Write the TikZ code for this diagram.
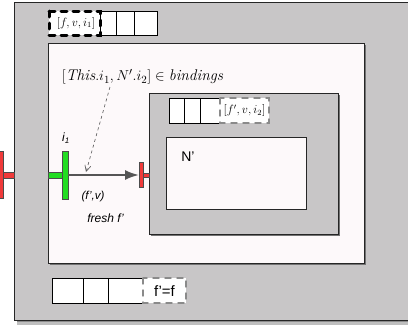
\documentclass[tikz,border=0pt]{standalone}
\usepackage{fontspec}
\setsansfont{Liberation Sans}
\usetikzlibrary{arrows.meta}
\definecolor{bggray}{HTML}{C8C6C7}
\definecolor{pinkw}{HTML}{FDF9FA}
\definecolor{portred}{HTML}{F03A3A}
\definecolor{portgreen}{HTML}{22DD22}
\definecolor{arrgray}{HTML}{555555}
\definecolor{dashgray}{HTML}{8A8A8A}
\tikzset{
  box/.style={draw=black!85, line width=0.9pt},
  cell/.style={draw=black, line width=0.6pt, fill=white},
  bigdash/.style={draw=black, line width=3pt, dash pattern=on 6pt off 6pt, line cap=round, fill=white},
  smalldash/.style={draw=dashgray, line width=1.4pt, dash pattern=on 6pt off 6pt, line cap=round, fill=white},
  redport/.style={fill=portred, draw=black!70, line width=0.5pt},
  greenport/.style={fill=portgreen, draw=black!70, line width=0.5pt},
  lbl/.style={inner sep=0pt, font=\sffamily\fontsize{11}{13}\selectfont},
}
\begin{document}
\begin{tikzpicture}[x=1pt,y=-1pt]
\useasboundingbox (0,0) rectangle (408,325);
\fill[white] (0,0) rectangle (408,325);
% outer box with shadow
\fill[black!45] (17,6) rectangle (412,324);
\fill[black!25] (17,322) rectangle (412,325);
\draw[box, fill=bggray] (14,2) rectangle (412,320);
% inner white
\fill[black!55] (50,45) rectangle (366,265);
\draw[box, fill=pinkw] (48,43) rectangle (364,263);
% N box
\fill[black!55] (151,95) rectangle (340,236);
\draw[box, fill=bggray] (149,93) rectangle (338,234);
% N' box
\draw[box, fill=pinkw] (166,137) rectangle (306,209);
\node[lbl, font=\sffamily\fontsize{14}{16}\selectfont] (nlab) at (188,157) {N'};

% top queue
\draw[cell] (100,11) rectangle (116,35);
\draw[cell] (116,11) rectangle (134,35);
\draw[cell] (134,11) rectangle (157,35);
\draw[bigdash] (49,11) rectangle (100,35);
\node[inner sep=0pt, font=\fontsize{12}{14}\selectfont] (q1) at (76,23) {$[f,v,i_1]$};

% inner queue
\draw[cell] (169,98) rectangle (184,123);
\draw[cell] (184,98) rectangle (200,123);
\draw[cell] (200,98) rectangle (220,123);
\draw[smalldash] (220,98) rectangle (269,123);
\node[inner sep=0pt, font=\fontsize{12}{14}\selectfont] (q2) at (244.5,110.5) {$[f',v,i_2]$};

% bottom queue
\draw[cell] (52,278) rectangle (83,303);
\draw[cell] (83,278) rectangle (108,303);
\draw[cell] (108,278) rectangle (146,303);
\draw[smalldash] (143,278) rectangle (186,303);
\node[lbl, font=\sffamily\fontsize{15}{17}\selectfont] (q3) at (164.5,291) {f'=f};

% ports
\draw[redport] (-5,172) rectangle (14,178);
\draw[redport] (-3,151) rectangle (3,198);
\draw[greenport] (48,172) rectangle (62,178);
\draw[greenport] (62,151) rectangle (68,199);
\coordinate (gout) at (68,175);
\draw[redport] (143,173) rectangle (149,177);
\draw[redport] (139,162) rectangle (143,187);
\coordinate (rin) at (139,175);
\draw[arrgray, line width=2pt, -{Latex[length=14pt, width=10pt]}] (gout) -- (rin);

% labels
\node[lbl, font=\sffamily\itshape\fontsize{12}{14}\selectfont] (ilab) at (66,138) {i\textsubscript{1}};
\node[lbl, font=\sffamily\itshape\fontsize{11.5}{13}\selectfont] (fv) at (93,197) {(f',v)};
\node[lbl, font=\sffamily\itshape\fontsize{12}{14}\selectfont] (fresh) at (105.5,218) {fresh f'};
\node[inner sep=0pt, font=\fontsize{15.5}{18}\selectfont] (bind) at (142.5,77) {$[\mathit{This}.i_1, N'.i_2] \in \mathit{bindings}$};
\coordinate (dtip) at (86,172);
\draw[arrgray, line width=0.6pt, dashed, -{Straight Barb[length=6pt, width=6pt]}] (110,87) -- (dtip);
\end{tikzpicture}
\end{document}
